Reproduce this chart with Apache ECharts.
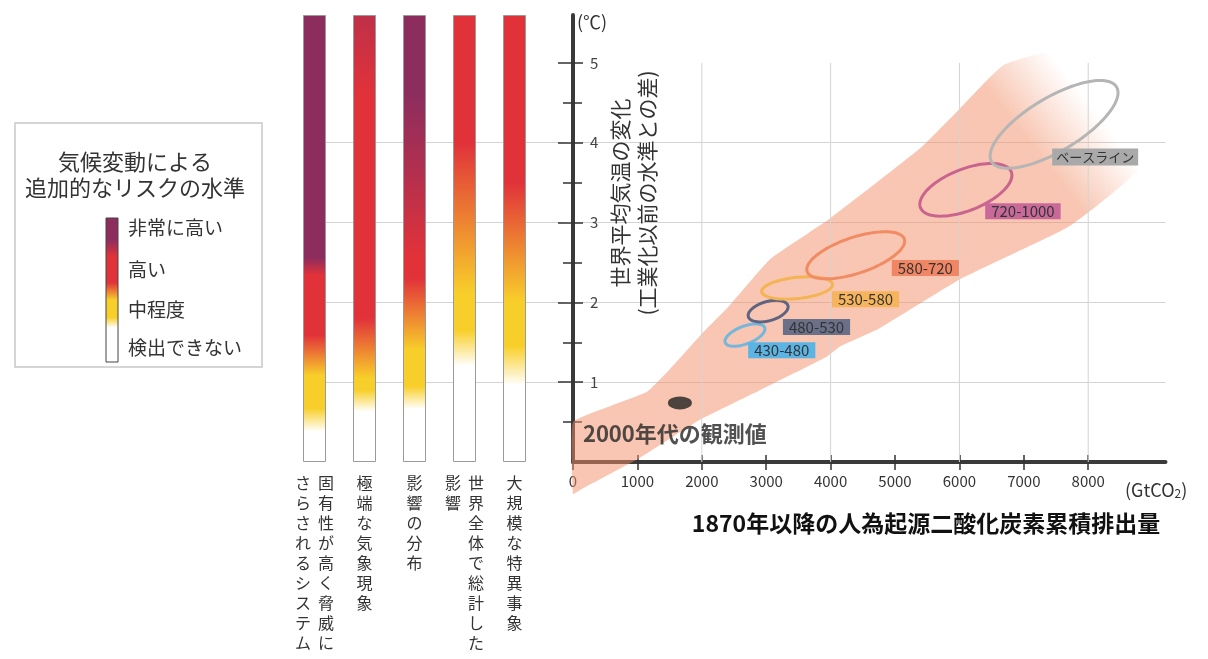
<!DOCTYPE html>
<html><head><meta charset="utf-8">
<script src="https://cdn.jsdelivr.net/npm/echarts@6/dist/echarts.min.js"></script>
<style>html,body{margin:0;padding:0;background:#fff}#c{width:1208px;height:659px}</style>
</head><body><div id="c"></div>
<script>
const FONT = '"Noto Sans CJK JP", "Noto Sans", sans-serif';

// ---- risk bars (left) ----
const barColumns = [
  ['固有性が高く脅威に', 'さらされるシステム'],
  ['極端な気象現象'],
  ['影響の分布'],
  ['世界全体で総計した', '影響'],
  ['大規模な特異事象']
];
const yMax = 5.6;
// [temperature °C, risk level: 0 none, 1 moderate, 2 high, 3 very high]
const barStops = [
  [[0,0],[0.38,0],[0.67,1],[1.08,1],[1.59,2],[2.34,2],[2.56,3],[5.6,3]],
  [[0,0],[0.63,0],[0.9,1],[1.05,1],[1.8,2],[4.6,2],[5.6,2.4]],
  [[0,0],[0.66,0],[0.95,1],[1.4,1],[2.3,2],[2.6,2],[3.7,2.6],[4.6,3],[5.6,3]],
  [[0,0],[1.2,0],[1.65,1],[2.1,1],[4.0,2],[5.6,2]],
  [[0,0],[0.96,0],[1.45,1],[2.0,1],[3.5,2],[5.6,2]]
];
const riskLevelColors = ['#ffffff', '#f8cf2a', '#e1323a', '#8d2d5e'];
const riskLevelNames = ['検出できない', '中程度', '高い', '非常に高い'];

// ---- scatter (right) ----
const xTicks = [0, 1000, 2000, 3000, 4000, 5000, 6000, 7000, 8000];
const xGridValues = [2000, 4000, 6000, 8000];
const xMax = 9200;
const yTicks = [1, 2, 3, 4, 5];
const yMinorTicks = [0.5, 1.5, 2.5, 3.5, 4.5];

const bandX = [0, 575, 1150, 1500, 1970, 2420, 3060, 3990, 5390, 6010, 6680, 7500, 8400, 8800, 7720, 6010, 4770, 4150, 3940, 2900, 1970, 990, 110, 0];
const bandT = [0.5, 0.7, 0.88, 1.16, 1.58, 1.95, 2.54, 3.05, 3.93, 4.43, 4.97, 5.15, 4.7, 3.7, 2.96, 2.29, 1.68, 1.45, 1.32, 0.9, 0.53, 0.03, -0.35, -0.4];

const scenarioNames = ['430-480', '480-530', '530-580', '580-720', '720-1000', 'ベースライン'];
const scenarioCenterX = [2670, 3030, 3480, 4390, 6100, 7470];
const scenarioCenterT = [1.59, 1.89, 2.18, 2.59, 3.41, 4.23];
const scenarioHalfX = [310, 310, 550, 760, 715, 993];
const scenarioHalfT = [0.14, 0.135, 0.14, 0.295, 0.33, 0.55];
const scenarioTilt = [0.55, 0.4, 0.3, 0.6, 0.55, 0.72];
const scenarioLabelX = [2720, 3260, 4020, 4950, 6400, 7440];
const scenarioLabelT = [1.40, 1.69, 2.04, 2.43, 3.14, 3.82];

const observedX = 1660;
const observedT = 0.74;

// ---- styles ----
const ellipseColors = ['#74b6dc', '#5f6382', '#f4b454', '#f08b64', '#c9648f', '#b5b5b5'];
const labelColors = ['#5cb4e4', '#6b7089', '#f6b55c', '#f18664', '#c8699a', '#a9a9a9'];
const labelFontSizes = [15, 15, 15, 15, 15, 13];

function hexToRgb(h){ return [1,3,5].map(i => parseInt(h.substr(i,2),16)); }
function levelColor(l){
  const i = Math.min(Math.floor(l), riskLevelColors.length - 2);
  const f = l - i;
  const a = hexToRgb(riskLevelColors[i]), b = hexToRgb(riskLevelColors[i+1]);
  const c = a.map((v,k) => Math.round(v + (b[k]-v)*f));
  return 'rgb(' + c.join(',') + ')';
}
function barGradient(stops){
  return new echarts.graphic.LinearGradient(0, 1, 0, 0,
    stops.map(s => ({offset: s[0] / yMax, color: levelColor(s[1])})));
}
function verticalLabel(idx){
  const cols = barColumns[idx];
  if (!cols) return '';
  const n = Math.max.apply(null, cols.map(c => c.length));
  const lines = [];
  for (let r = 0; r < n; r++) {
    lines.push(cols.slice().reverse().map(c => c[r] || '\u3000').join('  '));
  }
  return lines.join('\n');
}

const splitColors = ['transparent','#d4d4d4','#d4d4d4','#d4d4d4','#d4d4d4','transparent','transparent'];
const axisDark = '#3a3a3a';
const tickStyle = {color: '#333', width: 1.5};

function yTickAxis(values, inside, len){
  return {gridIndex: 1, type: 'value', position: 'left', min: 0, max: yMax, interval: 1,
    axisLine: {show: false}, axisLabel: {show: false}, splitLine: {show: false},
    axisTick: {show: true, inside: inside, customValues: values, length: len, lineStyle: tickStyle}};
}

const chart = echarts.init(document.getElementById('c'), null, {renderer: 'canvas'});

const option = {
  animation: false,
  backgroundColor: '#fff',
  textStyle: {fontFamily: FONT},
  grid: [
    {left: 314.5, top: 15, width: 250, height: 447, outerBoundsMode: 'none', containLabel: false},
    {left: 573, top: 15, width: 592.5, height: 447, outerBoundsMode: 'none', containLabel: false}
  ],
  xAxis: [
    {gridIndex: 0, type: 'category', position: 'bottom', boundaryGap: false,
     data: barColumns.map(c => c.join('')).concat(['']),
     axisLine: {show: false}, axisTick: {show: false}, splitLine: {show: false},
     axisLabel: {interval: 0, formatter: (v, idx) => verticalLabel(idx), fontSize: 16, lineHeight: 20,
                 color: '#333', margin: 11, verticalAlign: 'top', fontFamily: FONT}},
    {gridIndex: 1, type: 'value', position: 'bottom', min: 0, max: xMax,
     axisLine: {show: true, onZero: false, lineStyle: {color: axisDark, width: 4}},
     axisTick: {show: true, customValues: xTicks, length: 8, lineStyle: tickStyle},
     axisLabel: {customValues: xTicks, formatter: v => String(v), fontSize: 15, color: '#333', margin: 12, fontFamily: FONT},
     splitLine: {show: false}},
    {gridIndex: 1, type: 'value', position: 'bottom', min: 0, max: xMax,
     axisLine: {show: false},
     axisTick: {show: true, inside: true, customValues: xTicks, length: 7, lineStyle: tickStyle},
     axisLabel: {show: false}, splitLine: {show: false}}
  ],
  yAxis: [
    {gridIndex: 0, type: 'value', position: 'left', min: 0, max: yMax, interval: 1,
     axisLine: {show: false}, axisTick: {show: false}, axisLabel: {show: false},
     splitLine: {show: true, lineStyle: {color: splitColors, width: 1}}},
    {gridIndex: 1, type: 'value', position: 'left', min: 0, max: yMax, interval: 1,
     axisLine: {show: true, onZero: false, lineStyle: {color: axisDark, width: 4}},
     axisTick: {show: true, customValues: yTicks, length: 15, lineStyle: tickStyle},
     axisLabel: {inside: true, customValues: yTicks, formatter: v => String(v), margin: 17, fontSize: 15, color: '#444', fontFamily: FONT},
     splitLine: {show: false}},
    {gridIndex: 1, type: 'value', position: 'left', min: 0, max: yMax, interval: 1,
     axisLine: {show: false}, axisTick: {show: false}, axisLabel: {show: false},
     splitLine: {show: true, lineStyle: {color: splitColors, width: 1}}},
    yTickAxis(yMinorTicks, false, 10),
    yTickAxis(yTicks, true, 10),
    yTickAxis(yMinorTicks, true, 9)
  ],
  series: [
    {type: 'bar', xAxisIndex: 0, yAxisIndex: 0, barWidth: 23, clip: false, silent: true, z: 5,
     data: barStops.map(s => ({value: yMax, itemStyle: {color: barGradient(s), borderColor: '#9a9a9a', borderWidth: 1}}))},
    {type: 'custom', name: 'band', xAxisIndex: 1, yAxisIndex: 1, clip: false, silent: true, z: 1,
     data: [[0, 0]],
     renderItem: (p, api) => ({
       type: 'polygon',
       shape: {points: bandX.map((x, i) => api.coord([x, bandT[i]])), smooth: 0.12},
       style: {fill: {type: 'linear', x: 0, y: 1, x2: 1, y2: 0, colorStops: [
         {offset: 0, color: 'rgba(241,141,101,0.5)'},
         {offset: 0.8, color: 'rgba(241,141,101,0.5)'},
         {offset: 0.9, color: 'rgba(241,141,101,0)'},
         {offset: 1, color: 'rgba(241,141,101,0)'}]}}
     })},
    {type: 'custom', name: 'vgrid', xAxisIndex: 1, yAxisIndex: 1, silent: true, z: 1,
     data: xGridValues.map(v => [v, 0]),
     renderItem: (p, api) => {
       const a = api.coord([api.value(0), 0]);
       const b = api.coord([api.value(0), yTicks[yTicks.length - 1]]);
       return {type: 'line', shape: {x1: a[0], y1: a[1], x2: b[0], y2: b[1]}, style: {stroke: '#d4d4d4', lineWidth: 1}};
     }},
    {type: 'custom', name: 'scenarios', xAxisIndex: 1, yAxisIndex: 1, silent: true, z: 3, clip: false,
     data: scenarioNames.map((n, i) => [scenarioCenterX[i], scenarioCenterT[i], scenarioHalfX[i], scenarioHalfT[i], scenarioTilt[i], scenarioLabelX[i], scenarioLabelT[i]]),
     renderItem: (p, api) => {
       const i = p.dataIndex;
       const cx = api.value(0), ct = api.value(1), hx = api.value(2), ht = api.value(3), r = api.value(4);
       const pts = [];
       for (let k = 0; k < 96; k++) {
         const t = k / 96 * 2 * Math.PI;
         pts.push(api.coord([cx + hx * Math.cos(t), ct + ht * (r * Math.cos(t) + Math.sqrt(1 - r * r) * Math.sin(t))]));
       }
       const lp = api.coord([api.value(5), api.value(6)]);
       const pad = labelFontSizes[i] < 15 ? [2, 4, 2, 4] : [1, 6, 0, 6];
       return {type: 'group', children: [
         {type: 'polygon', shape: {points: pts}, style: {fill: 'none', stroke: ellipseColors[i], lineWidth: 3}},
         {type: 'text', x: lp[0], y: lp[1], style: {text: scenarioNames[i], fill: '#333', font: labelFontSizes[i] + 'px ' + FONT,
           backgroundColor: labelColors[i], padding: pad, align: 'left', verticalAlign: 'middle'}}
       ]};
     }},
    {type: 'scatter', name: 'observed', xAxisIndex: 1, yAxisIndex: 1, silent: true, z: 4,
     symbol: 'circle', symbolSize: [24, 13], itemStyle: {color: '#222'},
     data: [[observedX, observedT]],
     label: {show: true, formatter: '2000年代の観測値', position: [-85, 37.5], align: 'left', verticalAlign: 'middle',
             fontSize: 22, fontWeight: 'bold', color: '#262626', fontFamily: FONT}}
  ],
  graphic: [
    {type: 'rect', z: 10, shape: {x: 15, y: 123, width: 247, height: 244}, style: {fill: '#fff', stroke: '#c8c8c8', lineWidth: 1.5}},
    {type: 'text', z: 11, x: 135, y: 175, style: {text: '気候変動による\n追加的なリスクの水準', font: '22px ' + FONT, fill: '#333', align: 'center', verticalAlign: 'middle', lineHeight: 26}},
    {type: 'rect', z: 11, shape: {x: 106, y: 218, width: 12, height: 144},
     style: {stroke: '#444', lineWidth: 1, fill: new echarts.graphic.LinearGradient(0, 1, 0, 0, [
       {offset: 0, color: riskLevelColors[0]}, {offset: 0.24, color: riskLevelColors[0]},
       {offset: 0.31, color: riskLevelColors[1]}, {offset: 0.43, color: riskLevelColors[1]},
       {offset: 0.55, color: riskLevelColors[2]}, {offset: 0.73, color: riskLevelColors[2]},
       {offset: 0.85, color: riskLevelColors[3]}, {offset: 1, color: riskLevelColors[3]}])}},
    {type: 'text', z: 11, x: 128, y: 228, style: {text: riskLevelNames[3], font: '19px ' + FONT, fill: '#333', align: 'left', verticalAlign: 'middle'}},
    {type: 'text', z: 11, x: 128, y: 270, style: {text: riskLevelNames[2], font: '19px ' + FONT, fill: '#333', align: 'left', verticalAlign: 'middle'}},
    {type: 'text', z: 11, x: 128, y: 310, style: {text: riskLevelNames[1], font: '19px ' + FONT, fill: '#333', align: 'left', verticalAlign: 'middle'}},
    {type: 'text', z: 11, x: 128, y: 348, style: {text: riskLevelNames[0], font: '19px ' + FONT, fill: '#333', align: 'left', verticalAlign: 'middle'}},
    {type: 'text', z: 11, x: 633.5, y: 193, rotation: Math.PI / 2,
     style: {text: '世界平均気温の変化\n(工業化以前の水準との差)', font: '21px ' + FONT, fill: '#333', align: 'center', verticalAlign: 'middle', lineHeight: 27}},
    {type: 'text', z: 11, x: 577, y: 22, style: {text: '(℃)', font: '18px ' + FONT, fill: '#333', align: 'left', verticalAlign: 'middle'}},
    {type: 'text', z: 11, x: 1125, y: 488, style: {text: '{a|(GtCO}{b|2}{a|)}', align: 'left', verticalAlign: 'middle',
     rich: {a: {fontSize: 18, fontFamily: FONT, fill: '#333', lineHeight: 22, verticalAlign: 'bottom'},
            b: {fontSize: 12, fontFamily: FONT, fill: '#333', lineHeight: 14, verticalAlign: 'bottom'}}}},
    {type: 'text', z: 11, x: 926, y: 523, style: {text: '1870年以降の人為起源二酸化炭素累積排出量', font: 'bold 23px ' + FONT, fill: '#111', align: 'center', verticalAlign: 'middle'}}
  ]
};
chart.setOption(option);
</script>
</body></html>
